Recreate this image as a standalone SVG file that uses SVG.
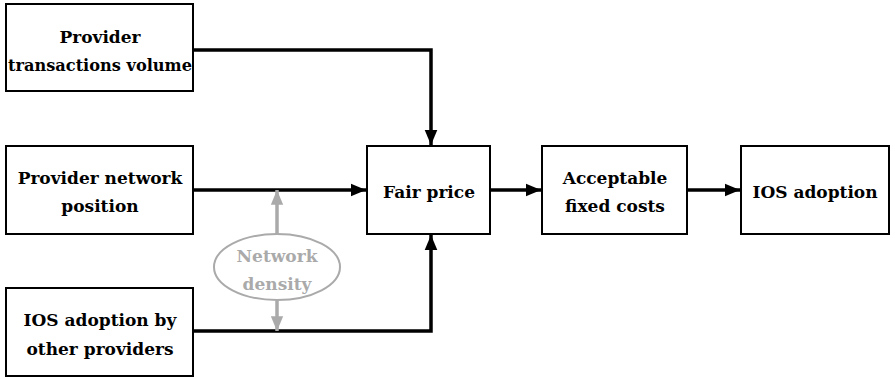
<svg xmlns="http://www.w3.org/2000/svg" width="895" height="379" viewBox="0 0 895 379">
<style>
.box{fill:#fff;stroke:#000;stroke-width:2}
.t{font-family:"DejaVu Serif",serif;font-weight:bold;font-size:17px;fill:#000;text-anchor:middle}
.g{fill:#aaa}
.c{fill:none;stroke:#000;stroke-width:3.5}
.cg{fill:none;stroke:#aaa;stroke-width:3.5}
</style>
<defs>
<marker id="ah" viewBox="0 0 10 10" refX="10" refY="5" markerWidth="4.4" markerHeight="4.4" markerUnits="strokeWidth" orient="auto"><path d="M0,0.8L10,5L0,9.2z" fill="#000"/></marker>
<marker id="ahg" viewBox="0 0 10 10" refX="10" refY="5" markerWidth="4.2" markerHeight="4.2" markerUnits="strokeWidth" orient="auto"><path d="M0,0.8L10,5L0,9.2z" fill="#aaa"/></marker>
</defs>
<g id="connectors">
<path class="c" d="M193,50H431V145" marker-end="url(#ah)"/>
<path class="c" d="M193,190H366" marker-end="url(#ah)"/>
<path class="c" d="M193,331H431V235" marker-end="url(#ah)"/>
<path class="c" d="M490,190H541" marker-end="url(#ah)"/>
<path class="c" d="M687,190H740" marker-end="url(#ah)"/>
<path class="cg" d="M277,234V190" marker-end="url(#ahg)"/>
<path class="cg" d="M277,301V331" marker-end="url(#ahg)"/>
</g>
<g id="n1"><rect class="box" x="6" y="4" width="187" height="87"/><text class="t" x="100" y="43">Provider</text><text class="t" x="100" y="71" textLength="184" lengthAdjust="spacingAndGlyphs">transactions volume</text></g>
<g id="n2"><rect class="box" x="6" y="146" width="187" height="88"/><text class="t" x="100" y="184">Provider network</text><text class="t" x="100" y="212">position</text></g>
<g id="n3"><rect class="box" x="6" y="288" width="187" height="88"/><text class="t" x="100" y="326">IOS adoption by</text><text class="t" x="100" y="355">other providers</text></g>
<g id="n4"><rect class="box" x="367" y="146" width="123" height="88"/><text class="t" x="429" y="198">Fair price</text></g>
<g id="n5"><rect class="box" x="542" y="146" width="145" height="88"/><text class="t" x="615" y="184">Acceptable</text><text class="t" x="615" y="212">fixed costs</text></g>
<g id="n6"><rect class="box" x="741" y="146" width="148" height="88"/><text class="t" x="815" y="198">IOS adoption</text></g>
<g id="n7"><ellipse cx="277" cy="267" rx="63" ry="33" fill="#fff" stroke="#aaa" stroke-width="2"/><text class="t g" x="277" y="262">Network</text><text class="t g" x="277" y="290">density</text></g>
</svg>
